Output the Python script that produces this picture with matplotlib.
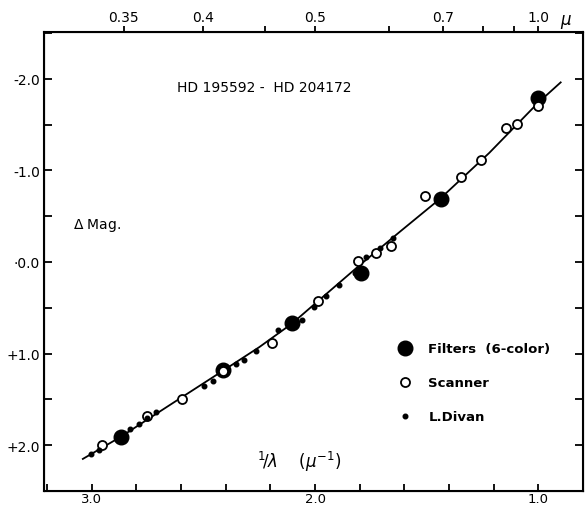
import numpy as np
import matplotlib
matplotlib.use('Agg')
import matplotlib.pyplot as plt

# 1/lambda (mu^-1) and Delta Mag
filt_x = [2.871, 2.411, 2.103, 1.795, 1.438, 1.000]
filt_y = [1.913, 1.180, 0.667, 0.120, -0.689, -1.790]

scan_x = [2.952, 2.751, 2.598, 2.412, 2.193, 1.987, 1.808, 1.729, 1.658,
          1.509, 1.347, 1.258, 1.147, 1.094, 1.003]
scan_y = [1.997, 1.686, 1.501, 1.188, 0.885, 0.423, -0.008, -0.098, -0.178,
          -0.721, -0.932, -1.118, -1.457, -1.501, -1.697]

divan_x = [3.004, 2.969, 2.828, 2.788, 2.752, 2.711, 2.499, 2.458, 2.354, 2.317,
           2.265, 2.165, 2.057, 2.004, 1.949, 1.893, 1.821, 1.771, 1.707, 1.649]
divan_y = [2.098, 2.051, 1.825, 1.770, 1.703, 1.634, 1.358, 1.295, 1.118, 1.071,
           0.970, 0.746, 0.639, 0.495, 0.368, 0.251, 0.123, -0.057, -0.151, -0.257]

# the drawn curve
curve_x = [3.04, 2.871, 2.64, 2.411, 2.25, 2.103, 2.00, 1.80, 1.62, 1.44, 1.22, 1.00, 0.90]
curve_y = [2.15, 1.91, 1.545, 1.185, 0.93, 0.672, 0.455, 0.035, -0.33, -0.69, -1.19, -1.74, -1.96]

# top axis: wavelength in microns
wl = [0.35, 0.4, 0.45, 0.5, 0.6, 0.7, 0.8, 0.9, 1.0]
wl_labels = ['0.35', '0.4', '', '0.5', '', '0.7', '', '', '1.0']

xt = np.arange(3.2, 0.79, -0.2)
xt_labels = ['3.0' if abs(v - 3) < 1e-6 else '2.0' if abs(v - 2) < 1e-6 else '1.0' if abs(v - 1) < 1e-6 else '' for v in xt]
yt = np.arange(-2.5, 2.51, 0.5)
yt_labels = {-2.0: '-2.0', -1.0: '-1.0', 0.0: '·0.0', 1.0: '+1.0', 2.0: '+2.0'}

fig = plt.figure(figsize=(5.85, 5.06), dpi=100)
ax = fig.add_axes([0.0752, 0.0277, 0.9214, 0.9071])

ax.plot(curve_x, curve_y, color='black', lw=1.3, zorder=1)
ax.plot(filt_x, filt_y, 'o', color='black', ms=10.5, ls='none', label='Filters  (6-color)', zorder=3)
ax.plot(scan_x, scan_y, 'o', mfc='white', mec='black', mew=1.3, ms=6.5, ls='none', label='Scanner', zorder=4)
ax.plot(divan_x, divan_y, 'o', color='black', ms=3.3, ls='none', label='L.Divan', zorder=5)

ax.set_xlim(3.214, 0.808)
ax.set_ylim(2.5, -2.51)

ax.set_xticks(xt)
ax.set_xticklabels(xt_labels)
ax.set_yticks(yt)
ax.set_yticklabels([yt_labels.get(round(v, 1), '') for v in yt])
ax.tick_params(axis='x', direction='in', length=5, width=1.3, top=True, labelsize=9.5, pad=1)
ax.tick_params(axis='y', direction='in', length=6, width=1.3, right=True, labelsize=10, pad=3)
for s in ax.spines.values():
    s.set_linewidth(1.5)

ax2 = ax.twiny()
ax2.set_xlim(ax.get_xlim())
ax2.set_xticks([1.0 / w for w in wl])
ax2.set_xticklabels(wl_labels)
ax2.tick_params(axis='x', direction='out', length=4, width=1.3, labelsize=10, pad=2)
ax2.text(0.968, 1.025, r'$\mu$', transform=ax.transAxes, fontsize=12, ha='center', va='center')
ax2.set_xlim(ax.get_xlim())

ax.text(0.408, 0.881, 'HD 195592 -  HD 204172', transform=ax.transAxes, fontsize=10, ha='center', va='center')
ax.text(0.054, 0.58, r'$\Delta$ Mag.', transform=ax.transAxes, fontsize=10, ha='left', va='center')
ax.text(0.395, 0.065, r'$^1\!/\lambda$    $(\mu^{-1})$', transform=ax.transAxes, fontsize=12, ha='left', va='center')

leg = ax.legend(loc='upper left', bbox_to_anchor=(0.635, 0.35), frameon=False,
                handlelength=1.0, handletextpad=1.3, labelspacing=1.6,
                prop={'weight': 'bold', 'size': 9.5})

fig.savefig('out.png', dpi=100)
plt.close()
